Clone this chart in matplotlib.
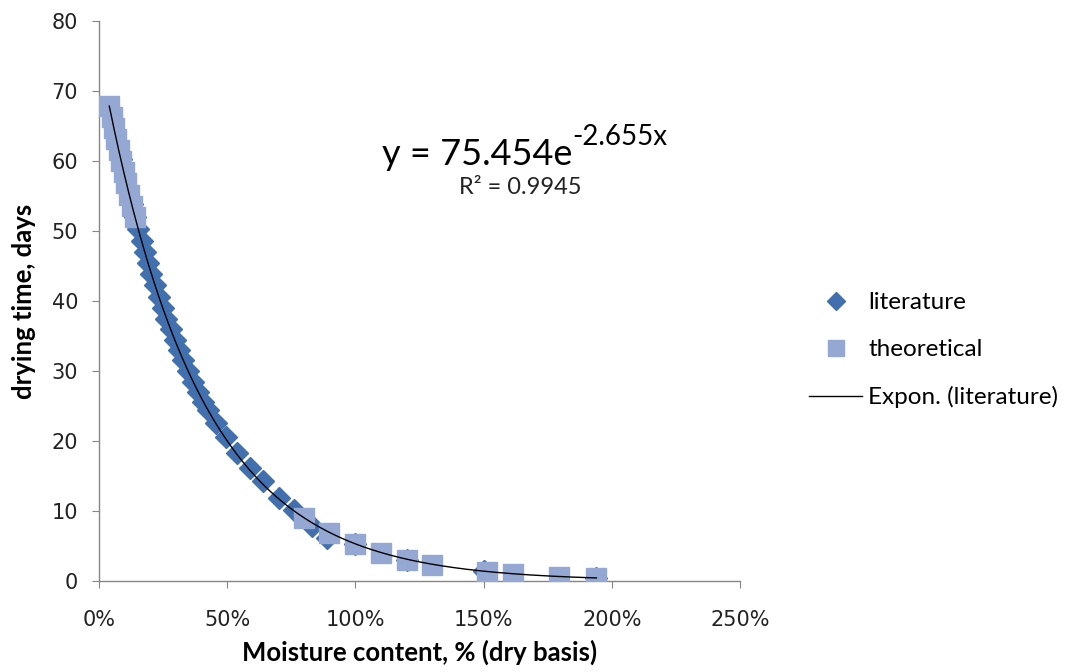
import numpy as np
import matplotlib
matplotlib.use("Agg")
import matplotlib.pyplot as plt

# literature data (moisture content as fraction, drying time in days)
lit_x = [0.040, 0.062, 0.085, 0.110, 0.128, 0.140, 0.153, 0.166, 0.178, 0.191,
         0.204, 0.218, 0.233, 0.249, 0.263, 0.279, 0.295, 0.312, 0.328, 0.347,
         0.367, 0.387, 0.407, 0.424, 0.457, 0.495, 0.540, 0.588, 0.640, 0.700,
         0.760, 0.830, 0.890, 1.000, 1.200, 1.500, 1.940]
lit_y = [67.5, 64.0, 60.3, 56.0, 53.8, 52.0, 50.3, 48.6, 47.0, 45.4,
         43.9, 42.3, 40.6, 39.0, 37.5, 36.0, 34.5, 33.0, 31.6, 30.0,
         28.5, 27.0, 25.6, 24.5, 22.6, 20.6, 18.3, 16.1, 14.3, 11.8,
         10.1, 7.9, 6.2, 5.3, 3.0, 1.4, 0.44]

# theoretical data
theo_x = [0.040, 0.049, 0.058, 0.067, 0.076, 0.086, 0.096, 0.107, 0.118, 0.129,
          0.140, 0.800, 0.896, 1.000, 1.100, 1.200, 1.300, 1.515, 1.616, 1.795,
          1.940]
theo_y = [67.9, 66.3, 64.7, 63.2, 61.6, 60.0, 58.4, 56.8, 55.2, 53.6,
          52.0, 9.0, 6.9, 5.3, 4.0, 3.0, 2.3, 1.3, 1.0, 0.6,
          0.4]

# exponential trendline coefficients (as shown on chart)
fit_a = 75.454
fit_b = -2.655

txt_font = ["Lato", "DejaVu Sans"]
grey = "#868686"

fig = plt.figure(figsize=(10.73, 6.72), dpi=100)
ax = fig.add_axes([0.0923, 0.1354, 0.5974, 0.8333])

ax.plot(lit_x, lit_y, linestyle="none", marker="D", markersize=11,
        color="#4270AE", markeredgecolor="#4270AE", label="literature", zorder=3)
ax.plot(theo_x, theo_y, linestyle="none", marker="s", markersize=15,
        color="#94A8D3", markeredgecolor="#94A8D3", label="theoretical", zorder=4)

xs = np.linspace(min(lit_x), max(lit_x), 200)
ax.plot(xs, fit_a * np.exp(fit_b * xs), color="black", linewidth=1.0,
        label="Expon. (literature)", zorder=5)

ax.set_xlim(0, 2.5)
ax.set_ylim(0, 80)
ax.set_xticks(np.arange(0, 2.51, 0.5))
ax.set_xticklabels([f"{int(round(v * 100))}%" for v in np.arange(0, 2.51, 0.5)])
ax.set_yticks(np.arange(0, 81, 10))

for s in ["top", "right"]:
    ax.spines[s].set_visible(False)
for s in ["left", "bottom"]:
    ax.spines[s].set_color(grey)
    ax.spines[s].set_linewidth(1.0)
ax.tick_params(direction="out", length=5, color=grey, labelsize=15,
               labelcolor="#222222", pad=10)
ax.tick_params(axis="x", pad=16)

ax.set_xlabel("Moisture content, % (dry basis)", fontsize=18.5, fontweight="bold",
              family=txt_font, labelpad=7)
ax.set_ylabel("drying time, days", fontsize=18.5, fontweight="bold",
              family=txt_font, labelpad=11)

# trendline equation: main part + raised exponent (plain hyphen as in Excel)
fig.text(0.533, 0.754, "y = 75.454e", fontsize=26, family=txt_font,
         ha="right", va="baseline")
fig.text(0.533, 0.784, "-2.655x", fontsize=20, family=txt_font,
         ha="left", va="baseline")
fig.text(0.485, 0.711, "R² = 0.9945", fontsize=17, family=txt_font,
         ha="center", va="baseline", color="#222222")

leg = ax.legend(loc="center left", bbox_to_anchor=(0.7335, 0.479),
                bbox_transform=fig.transFigure, frameon=False,
                prop={"family": txt_font, "size": 17.5}, labelspacing=1.07,
                handlelength=2.2, handletextpad=0.25, markerscale=0.8)

fig.savefig("out.png", dpi=100)
